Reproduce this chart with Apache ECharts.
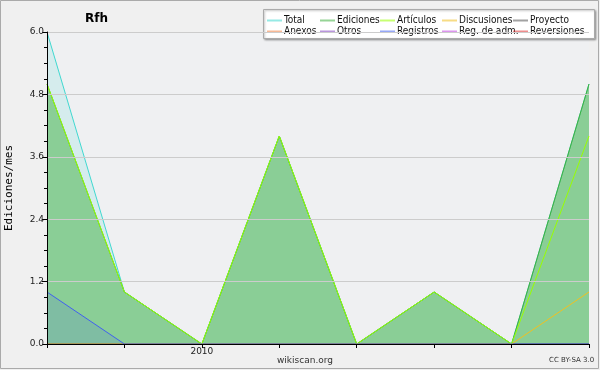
<!DOCTYPE html>
<html><head><meta charset="utf-8">
<script src="https://cdn.jsdelivr.net/npm/echarts@6/dist/echarts.min.js"></script>
<style>html,body{margin:0;padding:0;background:#f0f0f0}#c{width:600px;height:370px}</style>
</head><body><div id="c"></div>
<script>
const months = ['2009-11','2009-12','2010-01','2010-02','2010-03','2010-04','2010-05','2010-06'];
const total = [6,1,0,4,0,1,0,5];
const ediciones = [5,1,0,4,0,1,0,5];
const articulos = [5,1,0,4,0,1,0,4];
const discusiones = [0,0,0,0,0,0,0,1];
const proyecto = [0,0,0,0,0,0,0,0];
const anexos = [0,0,0,0,0,0,0,0];
const otros = [0,0,0,0,0,0,0,0];
const registros = [1,0,0,0,0,0,0,0];
const regadm = [0,0,0,0,0,0,0,0];
const reversiones = [0,0,0,0,0,0,0,0];
const yTicks = [0,1.2,2.4,3.6,4.8,6.0];

const colors = {
  'Total':'#40d8d0','Ediciones':'#40b040','Artículos':'#99ff00','Discusiones':'#f0c020',
  'Proyecto':'#555555','Anexos':'#f08040','Otros':'#8040c0','Registros':'#4060f0',
  'Reg. de adm.':'#c040e0','Reversiones':'#e03030'
};
function line(name, data, area, z){
  const s = {name, type:'line', data, symbol:'none', z:z||2,
    lineStyle:{color:colors[name], width:1}, itemStyle:{color:colors[name]}};
  if(area) s.areaStyle = {color:area, opacity:1};
  return s;
}
const cols = [['Total','Anexos'],['Ediciones','Otros'],['Artículos','Registros'],['Discusiones','Reg. de adm.'],['Proyecto','Reversiones']];
const colX = [267,320,380,442,513];
const legends = cols.map((d,i)=>({
  data:d.map(n=>({name:n, itemStyle:{color:colors[n], opacity:0.55}})),
  orient:'vertical', left:colX[i], top:15, itemGap:0, itemWidth:15, itemHeight:2,
  icon:'rect', padding:0, selectedMode:false,
  textStyle:{fontFamily:'DejaVu Sans Condensed, Liberation Sans Narrow, sans-serif', fontSize:10, color:'#111', lineHeight:11, padding:[0,0,0,-3]}
}));
const chart = echarts.init(document.getElementById('c'));
chart.setOption({
  animation:false,
  backgroundColor:'#f0f0f0',
  title:{text:'Rfh', left:80, top:8, textStyle:{fontFamily:'DejaVu Sans', fontSize:12, fontWeight:'bold', color:'#000'}},
  legend:legends,
  graphic:[
    {type:'rect', shape:{x:0.5,y:0.5,width:598,height:368}, style:{fill:null, stroke:'#aaaaaa', lineWidth:1}, z:-1},
    {type:'rect', shape:{x:263.5,y:9.5,width:331,height:29}, style:{fill:'#ffffff', stroke:'#aaaaaa', lineWidth:1, shadowBlur:2, shadowOffsetX:1, shadowOffsetY:1, shadowColor:'rgba(0,0,0,0.3)'}, z:0},
    {type:'text', left:277, top:356, style:{text:'wikiscan.org', font:'9px DejaVu Sans', fill:'#333'}},
    {type:'text', left:549, top:357, style:{text:'CC BY-SA 3.0', font:'7px DejaVu Sans', fill:'#333'}}
  ],
  grid:{left:47, right:11, top:32, bottom:26, show:true, backgroundColor:'#eff0f2', borderWidth:0, containLabel:false, outerBoundsMode:'none'},
  xAxis:{type:'category', data:months, boundaryGap:false, z:10,
    axisLine:{lineStyle:{color:'#000', width:1}},
    axisTick:{show:true, length:4, lineStyle:{color:'#000'}},
    axisLabel:{fontFamily:'DejaVu Sans', fontSize:9, color:'#222', margin:3,
      formatter:v=>v.endsWith('-01')?v.slice(0,4):''},
    splitLine:{show:false}},
  yAxis:{type:'value', min:0, max:6, interval:1.2, z:10,
    name:'Ediciones/mes', nameLocation:'middle', nameGap:32,
    nameTextStyle:{fontFamily:'DejaVu Sans Mono', fontSize:11, color:'#000'},
    axisLine:{show:true, lineStyle:{color:'#000', width:1}},
    axisTick:{show:true, length:5, lineStyle:{color:'#000'}},
    minorTick:{show:true, splitNumber:4, length:3, lineStyle:{color:'#000'}},
    axisLabel:{fontFamily:'DejaVu Sans', fontSize:9, color:'#222', margin:3,
      formatter:v=>yTicks.find(t=>Math.abs(t-v)<1e-6)!==undefined?v.toFixed(1):''},
    splitLine:{show:true, lineStyle:{color:'#cccccc', width:1}}},
  series:[
    line('Total', total, 'rgba(64,216,208,0.15)', 2),
    line('Ediciones', ediciones, 'rgba(64,176,64,0.5)', 3),
    line('Artículos', articulos, null, 4),
    line('Discusiones', discusiones, null, 4),
    line('Proyecto', proyecto, null, 1),
    line('Anexos', anexos, null, 1),
    line('Otros', otros, null, 1),
    line('Registros', registros, 'rgba(64,96,240,0.15)', 5),
    line('Reg. de adm.', regadm, null, 1),
    line('Reversiones', reversiones, null, 1)
  ]
});
</script></body></html>
